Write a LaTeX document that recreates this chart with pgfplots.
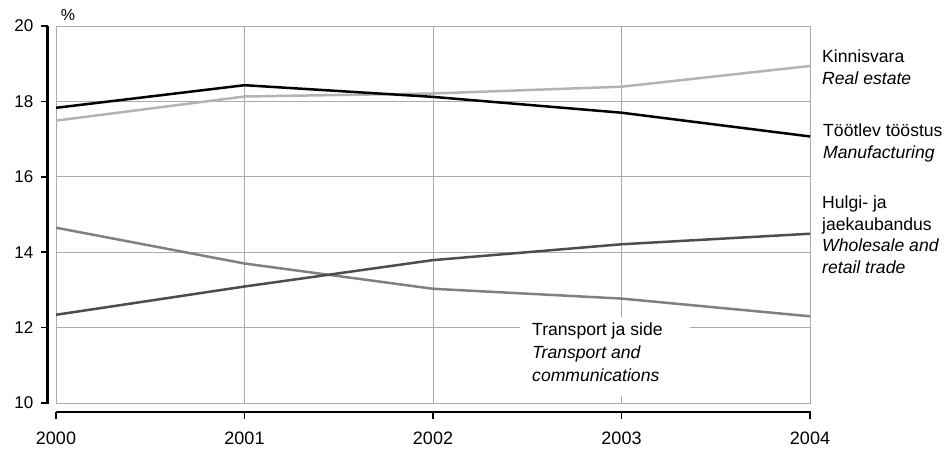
\documentclass[border=0pt]{standalone}
\usepackage{fontspec}
\setmainfont{Liberation Sans}
\usepackage{pgfplots}
\pgfplotsset{compat=1.18}
\definecolor{cman}{HTML}{000000}
\definecolor{creal}{HTML}{B3B3B3}
\definecolor{ctrade}{HTML}{4D4D4D}
\definecolor{ctrans}{HTML}{808080}
\definecolor{cgrid}{HTML}{ABABAB}
\newcommand{\lab}{\fontsize{17.6}{21}\selectfont}
\newcommand{\rlab}{\fontsize{17.6}{21}\selectfont}
\begin{document}
\begin{tikzpicture}[x=1pt,y=1pt]
\begin{axis}[at={(0,0)}, anchor=south west, scale only axis,
  width=754pt, height=377pt,
  xmin=2000, xmax=2004, ymin=10, ymax=20,
  xtick={2000,2001,2002,2003,2004},
  xticklabels={2000,2001,2002,2003,2004},
  ytick={10,12,14,16,18,20},
  major tick length=0pt,
  grid=major, grid style={cgrid, line width=1pt},
  axis line style={cgrid, line width=1pt},
  /pgf/number format/assume math mode=true,
  yticklabel style={font=\fontsize{17}{20}\selectfont, anchor=east, inner sep=0pt, xshift=-22.5pt},
  xticklabel style={font=\fontsize{18}{21}\selectfont, anchor=north, inner sep=0pt, yshift=-28.7pt},
  clip=false,
]
\addplot[ctrans, line width=2.5pt] coordinates {(2000,14.65) (2001,13.70) (2002,13.03) (2003,12.77) (2004,12.30)};
\addplot[ctrade, line width=2.5pt] coordinates {(2000,12.34) (2001,13.09) (2002,13.79) (2003,14.21) (2004,14.49)};
\addplot[creal, line width=2.5pt] coordinates {(2000,17.49) (2001,18.13) (2002,18.21) (2003,18.39) (2004,18.94)};
\addplot[cman, line width=2.5pt] coordinates {(2000,17.83) (2001,18.43) (2002,18.12) (2003,17.70) (2004,17.07)};
\end{axis}
% detached axis lines
\draw[black, line width=2.5pt] (-8.5,-1.25) -- (-8.5,377);
\foreach \yy in {0,75.4,150.8,226.2,301.6,377} \draw[black, line width=1.5pt] (-15,\yy) -- (-8.5,\yy);
\draw[black, line width=2.5pt] (0,-9) -- (755,-9);
\foreach \xx in {0,188.5,377,565.5,754} \draw[black, line width=1.5pt] (\xx,-9) -- (\xx,-15.5);
% labels
\node[font=\fontsize{16}{18}\selectfont, inner sep=0pt] at (12,388) {\%};
\fill[white] (464,7) rectangle (634,86);
\node[font=\lab, anchor=base west, inner sep=0pt] at (476,68) {Transport ja side};
\node[font=\lab\itshape, anchor=base west, inner sep=0pt] at (476,44.7) {Transport and};
\node[font=\lab\itshape, anchor=base west, inner sep=0pt] at (476,21.3) {communications};
\node[font=\rlab, anchor=base west, inner sep=0pt] at (766,340.7) {Kinnisvara};
\node[font=\rlab\itshape, anchor=base west, inner sep=0pt] at (766,318.7) {Real estate};
\node[font=\rlab, anchor=base west, inner sep=0pt] at (767,266.3) {Töötlev tööstus};
\node[font=\rlab\itshape, anchor=base west, inner sep=0pt] at (767,244.7) {Manufacturing};
\node[font=\rlab, anchor=base west, inner sep=0pt] at (766,194.7) {Hulgi- ja};
\node[font=\rlab, anchor=base west, inner sep=0pt] at (766,173) {jaekaubandus};
\node[font=\rlab\itshape, anchor=base west, inner sep=0pt] at (766,151.3) {Wholesale and};
\node[font=\rlab\itshape, anchor=base west, inner sep=0pt] at (766,129.7) {retail trade};
\pgfresetboundingbox
\path (-56,-45) rectangle (896,403);
\end{tikzpicture}
\end{document}
